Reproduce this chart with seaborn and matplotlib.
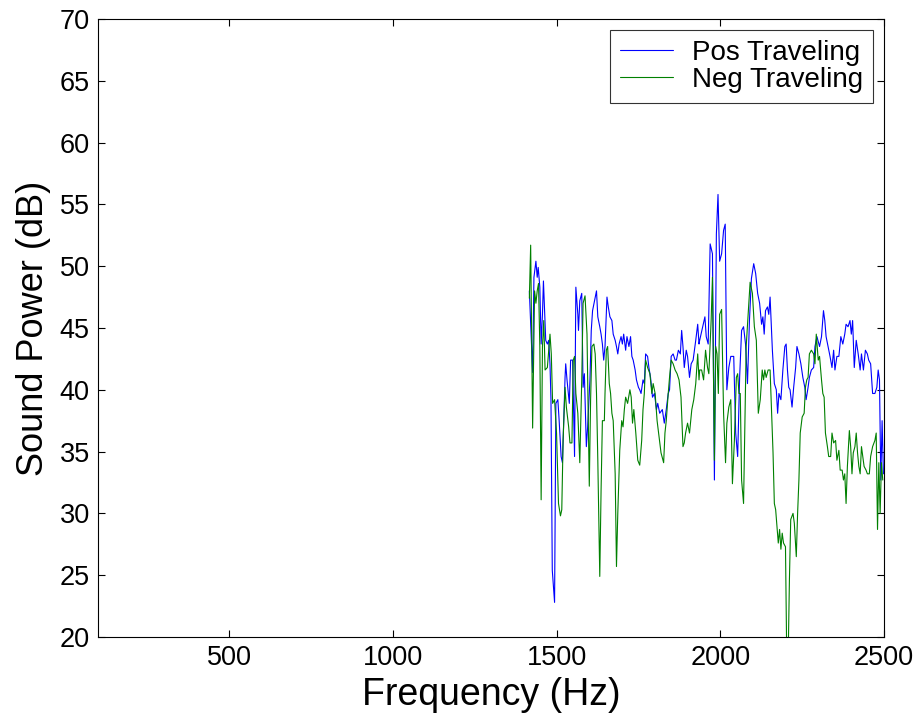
import matplotlib
matplotlib.use("Agg")
import matplotlib.pyplot as plt
import seaborn as sns
import pandas as pd

# Positive traveling wave: frequency (Hz) and sound power (dB)
pos_freq = [1417, 1427, 1431, 1437, 1441, 1444, 1449, 1453, 1457, 1460, 1463, 1467,
            1472, 1476, 1480, 1483, 1487, 1494, 1498, 1504, 1508, 1514, 1518, 1526,
            1528, 1532, 1539, 1543, 1549, 1555, 1559, 1565, 1567, 1571, 1577, 1581,
            1585, 1591, 1595, 1602, 1606, 1610, 1616, 1622, 1626, 1632, 1636, 1640,
            1644, 1648, 1654, 1658, 1663, 1669, 1673, 1679, 1683, 1687, 1691, 1697,
            1701, 1705, 1711, 1715, 1721, 1726, 1730, 1734, 1740, 1744, 1750, 1754,
            1758, 1764, 1768, 1772, 1778, 1782, 1787, 1793, 1799, 1805, 1809, 1815,
            1823, 1829, 1835, 1841, 1845, 1850, 1856, 1862, 1866, 1872, 1878, 1882,
            1886, 1890, 1896, 1900, 1906, 1911, 1917, 1925, 1931, 1935, 1937, 1953,
            1957, 1963, 1969, 1976, 1982, 1988, 1993, 1998, 2004, 2010, 2015, 2020,
            2026, 2032, 2041, 2047, 2053, 2059, 2065, 2071, 2077, 2083, 2089, 2095,
            2102, 2108, 2114, 2120, 2126, 2130, 2134, 2138, 2144, 2148, 2152, 2159,
            2165, 2171, 2175, 2179, 2185, 2191, 2197, 2201, 2205, 2209, 2213, 2219,
            2224, 2230, 2234, 2240, 2246, 2252, 2258, 2262, 2268, 2272, 2278, 2285,
            2289, 2295, 2303, 2309, 2315, 2319, 2323, 2329, 2335, 2341, 2346, 2350,
            2356, 2362, 2368, 2374, 2380, 2384, 2390, 2396, 2400, 2404, 2409, 2415,
            2421, 2427, 2431, 2437, 2443, 2449, 2453, 2459, 2465, 2472, 2478, 2482,
            2486, 2490, 2494, 2498]
pos_db = [48.0, 41.4, 49.1, 50.4, 49.1, 49.9, 48.3, 43.7, 46.1, 48.8, 46.7, 44.0,
          43.7, 44.0, 42.1, 39.2, 25.4, 22.8, 38.9, 39.2, 37.5, 34.6, 34.1, 41.0,
          42.1, 40.8, 38.9, 42.4, 42.4, 34.6, 48.3, 46.1, 44.8, 47.2, 47.8, 40.2,
          41.3, 35.4, 37.0, 40.8, 44.8, 46.4, 47.2, 48.0, 45.9, 45.1, 44.5, 43.7,
          42.4, 43.5, 47.5, 46.7, 45.9, 45.6, 44.5, 44.0, 43.5, 42.9, 43.7, 44.3,
          43.7, 44.5, 43.2, 44.3, 43.5, 44.3, 42.7, 42.4, 41.6, 40.8, 40.2, 40.0,
          39.7, 40.8, 40.5, 42.9, 42.7, 41.8, 41.0, 39.4, 39.7, 38.4, 38.9, 38.1,
          38.4, 37.3, 38.4, 39.7, 40.0, 42.7, 42.9, 42.4, 42.4, 43.2, 42.9, 44.8,
          43.5, 41.8, 43.2, 42.7, 41.0, 42.1, 42.4, 44.0, 45.3, 43.7, 44.0, 45.9,
          44.3, 43.7, 51.8, 51.0, 32.7, 52.6, 55.8, 50.4, 51.0, 52.9, 53.4, 40.0,
          41.8, 42.7, 42.7, 36.5, 34.6, 41.0, 44.8, 45.1, 43.7, 40.5, 45.6, 49.0,
          50.2, 49.4, 47.8, 47.0, 45.3, 45.9, 44.5, 46.4, 46.7, 46.1, 47.5, 43.2,
          40.5, 40.0, 38.1, 39.7, 39.2, 41.6, 43.5, 43.7, 41.6, 40.2, 40.0, 38.6,
          40.2, 41.8, 43.5, 42.9, 42.1, 41.0, 40.2, 39.2, 40.2, 41.0, 41.6, 41.8,
          43.5, 44.3, 43.5, 44.3, 46.4, 45.6, 44.3, 43.5, 42.7, 41.8, 43.2, 41.6,
          42.7, 42.7, 44.3, 43.7, 44.5, 45.3, 45.1, 45.6, 44.5, 45.6, 41.8, 44.0,
          42.9, 41.6, 42.9, 41.6, 43.2, 42.9, 42.4, 42.1, 39.7, 39.7, 40.2, 41.6,
          40.8, 32.7, 37.5, 33.2]

# Negative traveling wave
neg_freq = [1417, 1421, 1427, 1433, 1437, 1441, 1445, 1449, 1453, 1457, 1461, 1465,
            1472, 1480, 1484, 1488, 1494, 1500, 1506, 1512, 1516, 1520, 1526, 1530,
            1537, 1541, 1547, 1551, 1555, 1559, 1565, 1571, 1577, 1581, 1587, 1593,
            1600, 1604, 1608, 1614, 1618, 1622, 1626, 1632, 1636, 1640, 1646, 1648,
            1652, 1656, 1661, 1665, 1669, 1673, 1679, 1683, 1687, 1693, 1699, 1703,
            1707, 1711, 1717, 1724, 1728, 1732, 1736, 1742, 1748, 1754, 1760, 1764,
            1768, 1772, 1778, 1785, 1791, 1795, 1801, 1807, 1813, 1819, 1827, 1831,
            1835, 1841, 1845, 1850, 1856, 1862, 1868, 1874, 1880, 1886, 1890, 1894,
            1900, 1906, 1913, 1919, 1925, 1931, 1935, 1937, 1943, 1949, 1955, 1961,
            1965, 1972, 1976, 1982, 1986, 1990, 1994, 1998, 2004, 2010, 2016, 2020,
            2026, 2032, 2037, 2043, 2049, 2053, 2057, 2061, 2065, 2071, 2075, 2079,
            2085, 2091, 2098, 2104, 2110, 2116, 2122, 2128, 2132, 2136, 2140, 2146,
            2152, 2156, 2161, 2165, 2169, 2173, 2177, 2181, 2185, 2189, 2193, 2199,
            2203, 2207, 2211, 2215, 2222, 2226, 2232, 2236, 2240, 2244, 2250, 2256,
            2260, 2264, 2268, 2272, 2278, 2285, 2289, 2293, 2299, 2303, 2309, 2313,
            2317, 2321, 2327, 2331, 2337, 2341, 2346, 2352, 2356, 2362, 2366, 2372,
            2376, 2380, 2384, 2388, 2394, 2398, 2402, 2406, 2411, 2415, 2419, 2423,
            2427, 2431, 2435, 2439, 2445, 2449, 2455, 2459, 2465, 2472, 2476, 2480,
            2484, 2488, 2492, 2496]
neg_db = [47.4, 51.7, 36.9, 48.0, 47.0, 48.0, 48.6, 43.5, 31.1, 43.5, 45.6, 41.6,
          41.8, 44.5, 42.9, 38.9, 39.2, 36.5, 30.8, 29.8, 30.3, 35.9, 40.2, 38.6,
          37.0, 35.7, 35.7, 42.4, 42.7, 39.7, 38.1, 34.1, 40.8, 47.0, 47.6, 44.5,
          32.2, 39.2, 43.5, 43.7, 42.9, 39.7, 34.3, 24.9, 31.9, 37.5, 37.5, 39.7,
          43.2, 43.5, 40.5, 39.7, 38.1, 37.5, 33.2, 25.7, 30.0, 35.1, 37.5, 37.0,
          38.4, 39.4, 38.9, 40.0, 39.4, 37.3, 38.4, 36.5, 34.3, 33.9, 35.9, 38.4,
          39.7, 42.4, 41.8, 41.3, 39.7, 40.5, 39.7, 37.5, 36.2, 34.9, 34.1, 36.5,
          37.5, 39.7, 41.0, 42.4, 42.1, 41.6, 41.3, 40.8, 39.4, 35.4, 35.7, 36.5,
          37.3, 36.5, 38.4, 39.2, 40.5, 42.9, 40.8, 41.6, 41.6, 40.8, 43.2, 41.8,
          41.3, 45.6, 49.1, 34.3, 43.5, 42.9, 39.7, 46.1, 46.5, 38.1, 34.1, 37.3,
          38.6, 39.2, 32.4, 35.9, 41.0, 41.3, 39.7, 39.7, 32.7, 30.8, 37.0, 43.5,
          46.1, 48.7, 47.8, 45.1, 44.0, 38.1, 39.2, 41.6, 40.8, 41.6, 41.0, 41.6,
          41.6, 38.6, 34.9, 30.8, 30.3, 28.9, 27.6, 28.7, 27.1, 28.4, 27.6, 27.3,
          18.0, 18.0, 24.6, 29.5, 30.0, 29.2, 26.5, 30.0, 32.7, 36.5, 37.8, 38.1,
          40.2, 40.8, 41.0, 42.9, 43.2, 42.9, 42.1, 44.5, 42.4, 42.7, 40.8, 39.7,
          39.4, 36.5, 35.4, 34.6, 34.6, 36.5, 35.7, 35.9, 34.3, 35.1, 33.5, 33.5,
          32.7, 33.2, 30.8, 33.8, 36.7, 35.4, 33.2, 34.9, 35.4, 36.5, 34.9, 33.8,
          33.2, 35.4, 34.6, 33.8, 33.5, 33.2, 33.2, 34.6, 35.4, 35.9, 36.5, 28.7,
          34.1, 30.0, 34.1, 32.7]

x_ticks = [500, 1000, 1500, 2000, 2500]
y_ticks = [20, 25, 30, 35, 40, 45, 50, 55, 60, 65, 70]

sns.set_style("ticks")
plt.rcParams['font.family'] = ['Liberation Sans', 'DejaVu Sans']
plt.rcParams['text.color'] = 'black'
plt.rcParams['axes.labelcolor'] = 'black'

pos = pd.DataFrame({"freq": pos_freq, "db": pos_db})
neg = pd.DataFrame({"freq": neg_freq, "db": neg_db})

fig = plt.figure(figsize=(9.21, 7.28), dpi=100)
ax = fig.add_axes([0.1064, 0.125, 0.8535, 0.849])

sns.lineplot(data=pos, x="freq", y="db", sort=False, estimator=None,
             color="#0000ff", linewidth=0.8, label="Pos Traveling", ax=ax)
sns.lineplot(data=neg, x="freq", y="db", sort=False, estimator=None,
             color="#008000", linewidth=0.8, label="Neg Traveling", ax=ax)

ax.set_xlim(100, 2500)
ax.set_ylim(20, 70)
ax.set_xticks(x_ticks)
ax.set_yticks(y_ticks)
ax.tick_params(direction="in", length=5, width=0.8, labelsize=19.5,
               top=True, right=True, colors="black", pad=6)
for s in ax.spines.values():
    s.set_visible(True)
    s.set_color("black")
    s.set_linewidth(0.8)

ax.set_xlabel("Frequency (Hz)", fontsize=27, labelpad=4, color="black")
ax.set_ylabel("Sound Power (dB)", fontsize=26, labelpad=6, color="black")

leg = ax.legend(loc="upper right", fontsize=20, frameon=True, fancybox=False,
                handlelength=1.9, handletextpad=0.7, labelspacing=0.05,
                borderaxespad=0.4, borderpad=0.35)
leg.get_frame().set_edgecolor("black")
leg.get_frame().set_linewidth(0.8)
for t in leg.get_texts():
    t.set_color("black")

fig.savefig("out.png", dpi=100)
